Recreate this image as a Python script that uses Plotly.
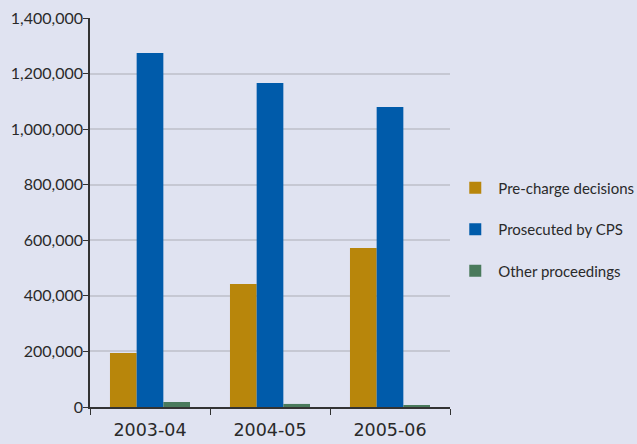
import plotly.graph_objects as go

years = ["2003-04", "2004-05", "2005-06"]
pre_charge = [194000, 443000, 572000]
prosecuted = [1274000, 1166000, 1080000]
other = [18000, 11000, 4000]

series_names = ["Pre-charge decisions", "Prosecuted by CPS", "Other proceedings"]
series_colors = ["#B8860B", "#005BAA", "#4A7A5C"]

fig = go.Figure()
for name, vals, color in zip(series_names, [pre_charge, prosecuted, other], series_colors):
    fig.add_trace(go.Bar(
        x=years,
        y=vals,
        name=name,
        legendgroup=name,
        marker=dict(color=color, line=dict(width=0))))

bg = "#E0E3F1"
fig.update_layout(
    width=637,
    height=444,
    barmode="group",
    bargap=0.333,
    bargroupgap=0,
    paper_bgcolor=bg,
    plot_bgcolor=bg,
    margin=dict(l=90, r=187, t=18, b=37, autoexpand=False),
    font=dict(family="Lato, sans-serif", color="#2A2A2A", size=15),
    legend=dict(
        xref="container", yref="container",
        x=0.71, y=0.483, xanchor="left", yanchor="middle",
        traceorder="grouped", tracegroupgap=19, itemwidth=36,
        font=dict(size=15, family="Lato, sans-serif"),
        bgcolor="rgba(0,0,0,0)"),
    showlegend=True)

fig.update_xaxes(
    type="category",
    automargin=False,
    tickson="boundaries",
    ticks="outside",
    ticklen=6,
    tickcolor="#333333",
    showline=True,
    linecolor="#333333",
    linewidth=1.5,
    showgrid=False,
    ticklabelstandoff=6,
    tickfont=dict(family="DejaVu Sans", size=17.5, color="#2A2A2A"))

fig.update_yaxes(
    range=[0, 1400000],
    automargin=False,
    tickvals=[0, 200000, 400000, 600000, 800000, 1000000, 1200000, 1400000],
    tickformat=",",
    ticks="outside",
    ticklen=5,
    tickcolor="#333333",
    showline=True,
    linecolor="#333333",
    linewidth=1.5,
    showgrid=True,
    gridcolor="#C6C8D3",
    gridwidth=1.5,
    zeroline=False,
    ticklabelstandoff=-3,
    tickfont=dict(family="Lato, sans-serif", size=16, color="#2A2A2A"))

fig.write_html("out.html", config={"displayModeBar": False},
               post_script="document.body.style.margin='0';document.body.style.overflow='hidden';")
